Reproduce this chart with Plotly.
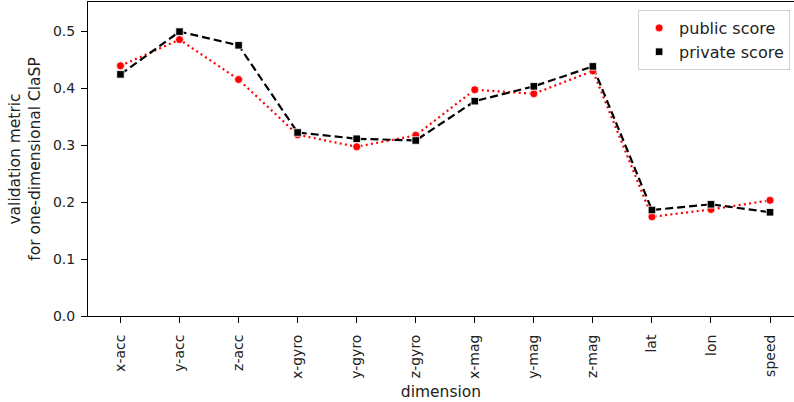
import plotly.graph_objects as go

dimensions = ["x-acc", "y-acc", "z-acc", "x-gyro", "y-gyro", "z-gyro",
              "x-mag", "y-mag", "z-mag", "lat", "lon", "speed"]
public_score = [0.439, 0.485, 0.415, 0.318, 0.297, 0.317,
                0.397, 0.390, 0.430, 0.174, 0.187, 0.203]
private_score = [0.424, 0.499, 0.475, 0.322, 0.311, 0.308,
                 0.377, 0.403, 0.438, 0.186, 0.196, 0.182]
y_ticks = [0.0, 0.1, 0.2, 0.3, 0.4, 0.5]

FONT = "DejaVu Sans"
RED = "#ff0000"
BLACK = "#000000"
TEXT = "#222222"

xs = list(range(len(dimensions)))

fig = go.Figure()

# connecting lines
fig.add_trace(go.Scatter(
    x=xs, y=public_score, mode="lines", showlegend=False,
    line=dict(color=RED, width=2.2, dash="2px,3.3px"), hoverinfo="skip"))
fig.add_trace(go.Scatter(
    x=xs, y=private_score, mode="lines", showlegend=False,
    line=dict(color=BLACK, width=2.2, dash="8px,4px"), hoverinfo="skip"))

# point markers (also used for the legend)
fig.add_trace(go.Scatter(
    x=xs, y=public_score, mode="markers", name="public score",
    marker=dict(symbol="circle", size=8, color=RED,
                line=dict(color="white", width=0.8))))
fig.add_trace(go.Scatter(
    x=xs, y=private_score, mode="markers", name="private score",
    marker=dict(symbol="square", size=7.5, color=BLACK,
                line=dict(color="white", width=0.8))))

fig.update_layout(
    width=794, height=402,
    margin=dict(l=87.5, r=0, t=2, b=86),
    paper_bgcolor="white", plot_bgcolor="white",
    font=dict(family=FONT, size=14, color="black"),
    legend=dict(
        x=(638 - 87.5) / (794 - 87.5), y=1 - 8 / 314, xanchor="left", yanchor="top",
        bgcolor="white", bordercolor="#d0d0d0", borderwidth=1,
        font=dict(family=FONT, size=16, color=TEXT),
        itemsizing="trace", tracegroupgap=0,
    ),
    xaxis=dict(
        range=[-0.55, 11.406],
        tickmode="array", tickvals=xs, ticktext=dimensions,
        tickangle=-90, ticks="outside", ticklen=6, tickwidth=1, tickcolor="black",
        ticklabelstandoff=6,
        showline=True, linecolor="black", linewidth=1, mirror=True,
        showgrid=False, zeroline=False,
        tickfont=dict(family=FONT, size=14, color=TEXT),
        title=dict(text="dimension", standoff=8,
                   font=dict(family=FONT, size=15.5, color=TEXT)),
    ),
    yaxis=dict(
        range=[0, 0.551],
        tickmode="array", tickvals=y_ticks, tickformat=".1f",
        ticks="outside", ticklen=6, tickwidth=1, tickcolor="black",
        ticklabelstandoff=3,
        showline=True, linecolor="black", linewidth=1, mirror=False,
        showgrid=False, zeroline=False,
        tickfont=dict(family=FONT, size=14, color=TEXT),
        title=dict(text="validation metric<br>for one-dimensional ClaSP", standoff=8,
                   font=dict(family=FONT, size=15.5, color=TEXT)),
    ),
)

fig.write_html("out.html")
